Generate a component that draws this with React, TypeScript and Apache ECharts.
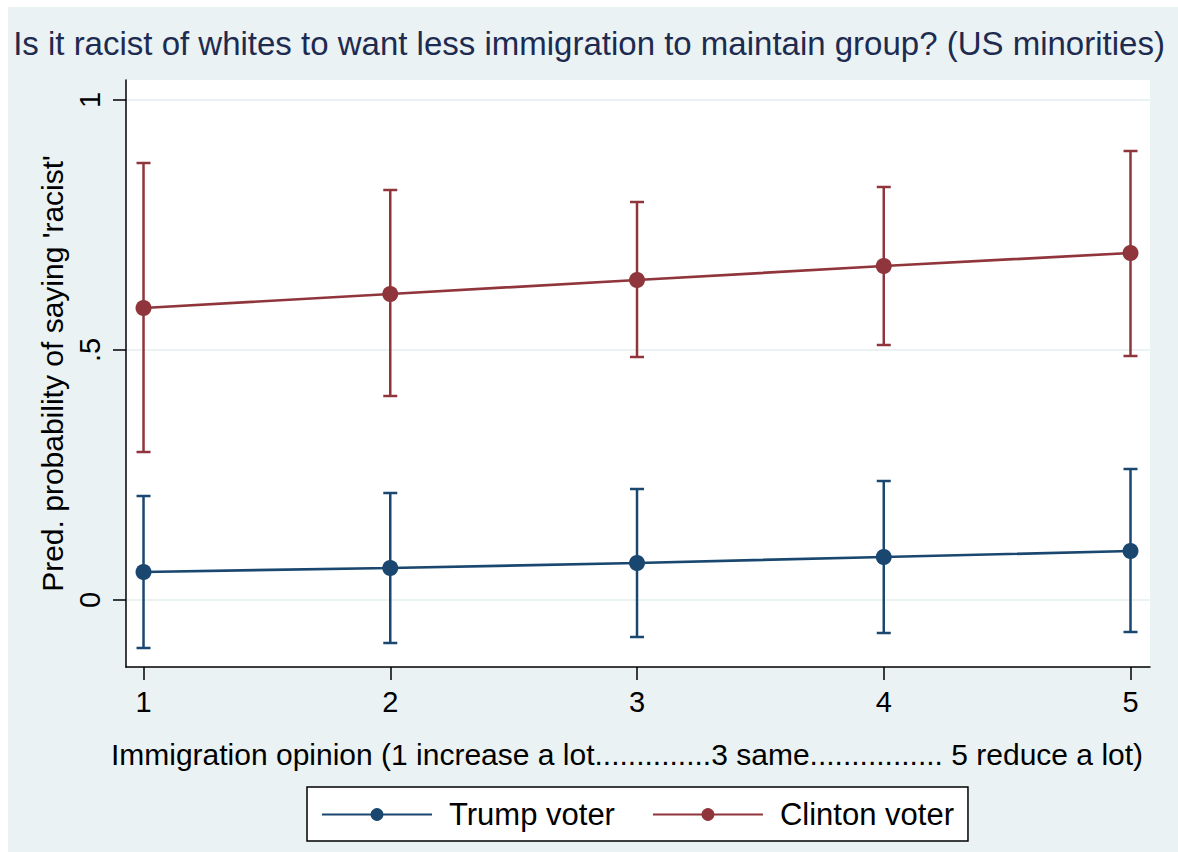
import React, { useEffect, useRef } from "react";
import * as echarts from "echarts";

const opinion = [1, 2, 3, 4, 5];
const trumpMean = [0.056, 0.064, 0.074, 0.086, 0.098];
const trumpLow = [-0.096, -0.086, -0.074, -0.066, -0.064];
const trumpHigh = [0.208, 0.214, 0.222, 0.238, 0.262];
const clintonMean = [0.584, 0.612, 0.64, 0.668, 0.694];
const clintonLow = [0.296, 0.408, 0.486, 0.51, 0.488];
const clintonHigh = [0.874, 0.82, 0.796, 0.826, 0.898];
const yTicks = [0, 0.5, 1];
const xTicks = [1, 2, 3, 4, 5];

const TRUMP = "#1a476f";
const CLINTON = "#90353b";
const BG = "#eaf2f3";
const FONT = "Liberation Sans, Arial, sans-serif";

function errorSeries(name: string, low: number[], high: number[], color: string) {
  return {
    name,
    type: "custom",
    data: opinion.map((x, i) => [x, low[i], high[i]]),
    z: 2,
    silent: true,
    renderItem: (params: any, api: any) => {
      const x = api.value(0);
      const lo = api.coord([x, api.value(1)]);
      const hi = api.coord([x, api.value(2)]);
      const hw = 7;
      const style = { stroke: color, lineWidth: 2.5 };
      return {
        type: "group",
        children: [
          { type: "line", shape: { x1: lo[0], y1: lo[1], x2: hi[0], y2: hi[1] }, style },
          { type: "line", shape: { x1: lo[0] - hw, y1: lo[1], x2: lo[0] + hw, y2: lo[1] }, style },
          { type: "line", shape: { x1: hi[0] - hw, y1: hi[1], x2: hi[0] + hw, y2: hi[1] }, style },
        ],
      };
    },
  };
}

function lineSeries(name: string, vals: number[], color: string) {
  return {
    name,
    type: "line",
    data: opinion.map((x, i) => [x, vals[i]]),
    symbol: "circle",
    symbolSize: 16,
    z: 3,
    lineStyle: { color, width: 2.7 },
    itemStyle: { color },
  };
}

export default function App() {
  const ref = useRef<HTMLDivElement>(null);
  useEffect(() => {
    document.body.style.margin = "0";
    const chart = echarts.init(ref.current!, null, { renderer: "svg" });
    chart.setOption({
      animation: false,
      backgroundColor: "#ffffff",
      textStyle: { fontFamily: FONT },
      graphic: [
        {
          type: "rect",
          shape: { x: 8, y: 7, width: 1170, height: 845 },
          style: { fill: BG },
          z: -10,
          silent: true,
        },
      ],
      title: {
        text: "Is it racist of whites to want less immigration to maintain group? (US minorities)",
        left: "center",
        top: 22,
        textStyle: { fontFamily: FONT, fontSize: 33, fontWeight: "normal", color: "#1e2b50" },
      },
      grid: {
        left: 126,
        right: 28,
        top: 80,
        bottom: 185,
        show: true,
        backgroundColor: "#ffffff",
        borderWidth: 0,
      },
      xAxis: {
        type: "value",
        min: 0.929,
        max: 5.079,
        name: "Immigration opinion (1 increase a lot..............3 same................ 5 reduce a lot)",
        nameLocation: "middle",
        nameGap: 72,
        nameTextStyle: { fontFamily: FONT, fontSize: 30, color: "#000", padding: [0, 22, 0, 0] },
        axisLine: { show: true, onZero: false, lineStyle: { color: "#000", width: 1.5 } },
        axisTick: { show: true, length: 13, customValues: xTicks, lineStyle: { color: "#000", width: 1.5 } },
        axisLabel: { customValues: xTicks, margin: 20, fontFamily: FONT, fontSize: 29, color: "#000" },
        splitLine: { show: false },
      },
      yAxis: {
        type: "value",
        min: -0.134,
        max: 1.04,
        name: "Pred. probability of saying 'racist'",
        nameLocation: "middle",
        nameGap: 48,
        nameTextStyle: { fontFamily: FONT, fontSize: 30, color: "#000" },
        axisLine: { show: true, onZero: false, lineStyle: { color: "#000", width: 1.5 } },
        axisTick: { show: true, length: 13, customValues: yTicks, lineStyle: { color: "#000", width: 1.5 } },
        axisLabel: {
          customValues: yTicks,
          rotate: 90,
          margin: 22,
          fontFamily: FONT,
          fontSize: 29,
          color: "#000",
          formatter: (v: number) => (v === 0 ? "0" : v === 1 ? "1" : String(v).replace(/^0/, "")),
        },
        splitLine: { show: true, lineStyle: { color: BG, width: 2 } },
      },
      legend: {
        data: ["Trump voter", "Clinton voter"],
        left: 307,
        top: 787,
        backgroundColor: "#ffffff",
        borderColor: "#000",
        borderWidth: 1.5,
        borderRadius: 0,
        padding: [12, 14, 11, 14],
        itemWidth: 110,
        itemHeight: 16,
        itemGap: 37,
        textStyle: { fontFamily: FONT, fontSize: 31, color: "#000", padding: [0, 0, 0, 12] },
      },
      series: [
        errorSeries("Trump CI", trumpLow, trumpHigh, TRUMP),
        errorSeries("Clinton CI", clintonLow, clintonHigh, CLINTON),
        lineSeries("Trump voter", trumpMean, TRUMP),
        lineSeries("Clinton voter", clintonMean, CLINTON),
      ],
    });
    return () => chart.dispose();
  }, []);
  return <div ref={ref} style={{ position: "absolute", left: 0, top: 0, width: 1178, height: 852 }} />;
}
